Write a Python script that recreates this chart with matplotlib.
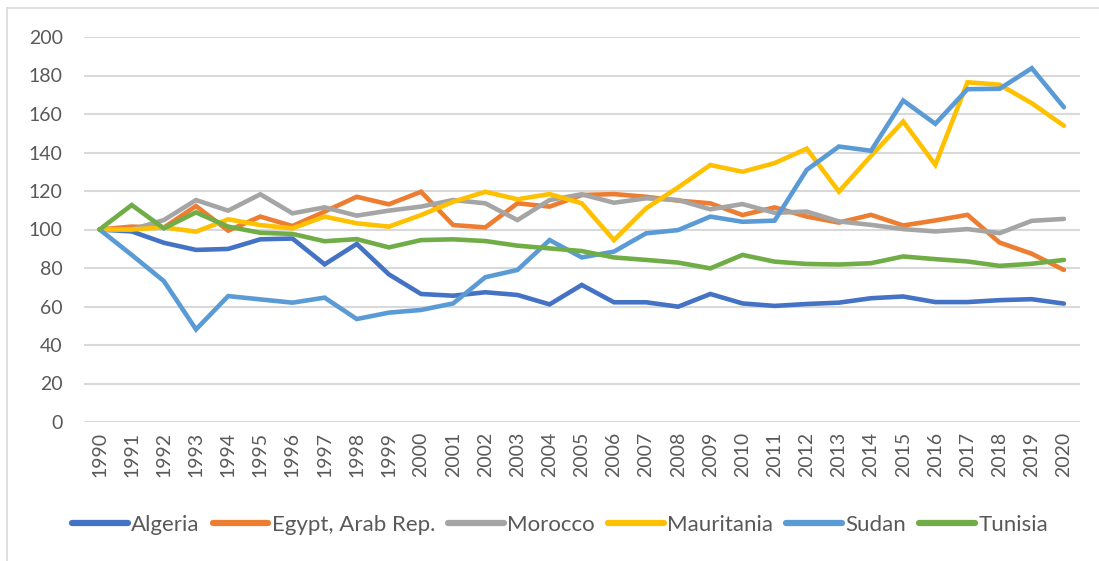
import matplotlib
matplotlib.use("Agg")
import matplotlib.pyplot as plt
from matplotlib.lines import Line2D

years = [str(y) for y in range(1990, 2021)]

algeria = [100, 99, 93.1, 89.4, 89.9, 94.9, 95.3, 81.9, 92.5, 76.7, 66.5, 65.6, 67.4, 66.0, 61.1,
           71.2, 62.2, 62.2, 59.9, 66.5, 61.6, 60.3, 61.3, 62.0, 64.3, 65.2, 62.3, 62.3, 63.3, 63.8, 61.5]
egypt = [100, 101.5, 101.0, 112.2, 99.4, 106.7, 101.8, 109.3, 117.0, 113.1, 119.6, 102.3, 101.1, 113.6, 111.9,
         117.9, 118.4, 117.0, 115.0, 113.6, 107.5, 111.5, 106.7, 103.6, 107.6, 102.1, 104.7, 107.6, 93.2, 87.4, 79.0]
morocco = [100, 100, 104.9, 115.3, 109.8, 118.3, 108.4, 111.5, 107.2, 109.8, 111.9, 115.3, 113.6, 104.9, 115.3,
           118.3, 113.9, 116.2, 115.3, 110.5, 113.2, 108.7, 109.3, 104.2, 102.4, 100.2, 99.0, 100.2, 98.1, 104.5, 105.5]
mauritania = [100, 100, 101.1, 98.9, 105.3, 102.3, 100.6, 106.7, 103.2, 101.5, 107.5, 114.4, 119.6, 115.7, 118.4,
              113.6, 94.5, 111.0, 121.9, 133.5, 130.0, 134.5, 142.0, 119.7, 138.3, 156.1, 133.6, 176.5, 175.2, 165.6, 153.9]
sudan = [100, 86.8, 73.2, 48.1, 65.4, 63.7, 62.0, 64.6, 53.5, 56.8, 58.2, 61.6, 75.2, 79.0, 94.5,
         85.5, 88.5, 98.0, 99.7, 106.7, 104.0, 104.6, 131.0, 143.1, 140.9, 167.0, 154.9, 172.9, 173.1, 183.8, 163.5]
tunisia = [100, 112.7, 100.6, 108.9, 101.5, 98.3, 97.7, 93.9, 95.0, 90.7, 94.5, 94.9, 94.0, 91.6, 90.2,
           88.8, 85.5, 84.2, 82.8, 79.8, 86.8, 83.3, 82.1, 81.8, 82.5, 86.0, 84.6, 83.4, 81.1, 82.2, 84.2]

series_names = ["Algeria", "Egypt, Arab Rep.", "Morocco", "Mauritania", "Sudan", "Tunisia"]
series_values = [algeria, egypt, morocco, mauritania, sudan, tunisia]
colors = ["#4472C4", "#ED7D31", "#A5A5A5", "#FFC000", "#5B9BD5", "#70AD47"]
yticks = [0, 20, 40, 60, 80, 100, 120, 140, 160, 180, 200]

plt.rcParams['font.family'] = ['Lato', 'DejaVu Sans']
text_color = "#595959"
grid_color = "#D9D9D9"

fig = plt.figure(figsize=(10.99, 5.61), dpi=100)
ax = fig.add_axes([83.5 / 1099, 1 - 422 / 561, (1080 - 83.5) / 1099, (422 - 37) / 561])

x = list(range(len(years)))
for name, vals, c in zip(series_names, series_values, colors):
    ax.plot(x, vals, color=c, lw=3.3, label=name, solid_joinstyle='miter', solid_capstyle='round')

ax.set_xlim(-0.5, len(years) - 0.5)
ax.set_ylim(0, 200)
ax.set_yticks(yticks)
ax.set_yticklabels([str(v) for v in yticks])
ax.set_xticks(x)
ax.set_xticklabels(years, rotation=90)
ax.tick_params(axis='y', length=0, pad=15, labelsize=14, labelcolor=text_color)
ax.tick_params(axis='x', length=0, pad=7, labelsize=14, labelcolor=text_color)
for s in ax.spines.values():
    s.set_visible(False)
ax.yaxis.grid(True, color=grid_color, lw=1.5)
ax.set_axisbelow(True)

handles = [Line2D([0], [0], color=c, lw=4.5, solid_capstyle='round') for c in colors]
leg = fig.legend(handles, series_names, loc='center', bbox_to_anchor=(560 / 1099, 1 - 525 / 561),
                 ncol=6, frameon=False, fontsize=16, handlelength=2.5, handletextpad=0.15,
                 columnspacing=0.6, labelcolor=text_color)

# chart border
fig.add_artist(Line2D([7 / 1099, 7 / 1099], [0, 1 - 8 / 561], transform=fig.transFigure, color=grid_color, lw=1.2))
fig.add_artist(Line2D([7 / 1099, 1], [1 - 8 / 561, 1 - 8 / 561], transform=fig.transFigure, color=grid_color, lw=1.2))

fig.savefig("out.png", dpi=100)
